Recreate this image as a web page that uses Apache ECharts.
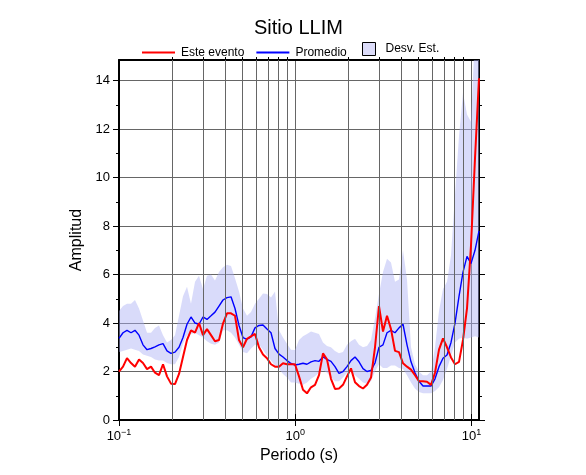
<!DOCTYPE html>
<html>
<head>
<meta charset="utf-8">
<script src="https://cdn.jsdelivr.net/npm/echarts@6/dist/echarts.min.js"></script>
<style>
  html, body { margin: 0; padding: 0; background: #fff; }
  #chart { width: 586px; height: 475px; }
</style>
</head>
<body>
<div id="chart"></div>
<script>
// Periodos (s)
const periodos = [
  0.1000, 0.1054, 0.1110, 0.1170, 0.1232, 0.1299, 0.1368, 0.1442, 0.1519, 0.1600,
  0.1686, 0.1777, 0.1872, 0.1972, 0.2078, 0.2190, 0.2307, 0.2431, 0.2561, 0.2699,
  0.2843, 0.2996, 0.3156, 0.3326, 0.3504, 0.3692, 0.3890, 0.4099, 0.4319, 0.4550,
  0.4794, 0.5051, 0.5322, 0.5608, 0.5908, 0.6225, 0.6559, 0.6911, 0.7282, 0.7672,
  0.8084, 0.8517, 0.8974, 0.9456, 0.9963, 1.050, 1.106, 1.165, 1.228, 1.294,
  1.363, 1.436, 1.513, 1.594, 1.680, 1.770, 1.865, 1.965, 2.070, 2.182,
  2.299, 2.422, 2.552, 2.689, 2.833, 2.985, 3.145, 3.314, 3.491, 3.679,
  3.876, 4.084, 4.303, 4.534, 4.777, 5.033, 5.303, 5.587, 5.887, 6.203,
  6.536, 6.886, 7.256, 7.645, 8.055, 8.487, 8.942, 9.422, 9.927, 10.46,
  11.02
]

const esteEvento = [
  2.0, 2.2, 2.55, 2.35, 2.2, 2.5, 2.35, 2.1, 2.2, 1.95,
  1.85, 2.3, 1.8, 1.5, 1.48, 1.9, 2.6, 3.3, 3.7, 3.6,
  4.0, 3.5, 3.75, 3.5, 3.25, 3.3, 3.98, 4.4, 4.4, 4.3,
  3.3, 3.0, 3.35, 3.45, 3.55, 3.0, 2.7, 2.55, 2.3, 2.2,
  2.2, 2.34, 2.3, 2.3, 2.3, 1.8, 1.25, 1.1, 1.35, 1.45,
  1.85, 2.75, 2.5, 1.7, 1.28, 1.3, 1.45, 1.8, 2.13, 1.56,
  1.4, 1.3, 1.45, 1.75, 3.0, 4.7, 3.65, 4.3, 3.75, 2.85,
  2.8, 2.34, 2.2, 2.08, 1.85, 1.6, 1.6, 1.58, 1.45, 1.95,
  2.9, 3.37, 3.0, 2.58, 2.3, 2.4, 3.3, 4.6, 7.2, 10.8,
  14.1
]

const promedio = [
  3.37, 3.6, 3.7, 3.6, 3.7, 3.5, 3.1, 2.9, 2.95, 3.02,
  3.1, 3.15, 2.85, 2.75, 2.8, 3.0, 3.4, 3.95, 4.25, 4.0,
  3.95, 4.25, 4.15, 4.3, 4.45, 4.7, 4.95, 5.05, 5.08, 4.6,
  3.9, 3.4, 3.33, 3.43, 3.8, 3.9, 3.92, 3.75, 3.6, 2.95,
  2.72, 2.6, 2.45, 2.33, 2.27, 2.3, 2.34, 2.3, 2.4, 2.45,
  2.42, 2.6, 2.5, 2.42, 2.2, 1.92, 2.0, 2.2, 2.45, 2.6,
  2.4, 2.12, 2.0, 2.05, 2.35, 3.0, 3.1, 3.6, 3.7, 3.6,
  3.8, 3.95, 3.1, 2.4, 1.95, 1.6, 1.4, 1.4, 1.4, 1.7,
  2.2, 2.55, 2.68, 3.2, 4.0, 5.1, 6.1, 6.75, 6.45, 7.0,
  7.8
]

// Desviacion estandar: limites superior e inferior
const desvSup = [
  4.5, 4.7, 4.8, 4.8, 4.95, 4.6, 4.1, 3.6, 3.6, 3.8,
  3.9, 3.5, 3.2, 3.3, 3.5, 4.3, 5.1, 5.5, 4.8, 5.7,
  5.95, 5.4, 5.95, 6.0, 5.75, 6.1, 6.3, 6.4, 6.35, 5.85,
  5.3, 4.6, 4.3, 4.45, 4.8, 5.0, 5.22, 5.2, 5.05, 5.3,
  3.7, 3.4, 3.15, 2.9, 2.89, 3.3, 3.45, 3.55, 3.65, 3.6,
  3.55, 3.2, 3.05, 3.0, 2.85, 2.75, 2.8, 3.1, 3.25, 3.35,
  3.1, 3.0, 3.05, 3.3, 4.2, 5.2, 6.1, 6.65, 6.5, 5.7,
  5.8, 7.0, 5.8, 3.0, 2.3, 2.0, 1.85, 1.85, 2.0, 3.0,
  4.5, 5.4, 5.7, 6.8, 9.3, 11.7, 13.5, 12.6, 12.3, 16,
  16
]

const desvInf = [
  2.8, 2.85, 2.9, 2.95, 2.9, 2.85, 2.7, 2.65, 2.6, 2.5,
  2.45, 2.45, 2.35, 2.3, 2.3, 2.6, 3.15, 3.5, 3.55, 3.6,
  3.5, 3.4, 3.25, 3.15, 3.1, 3.2, 3.7, 3.7, 3.6, 3.4,
  3.1, 2.8, 2.75, 2.95, 3.1, 3.1, 2.9, 2.65, 2.45, 2.25,
  2.1, 1.9, 1.75, 1.55, 1.55, 1.5, 1.45, 1.55, 1.7, 1.8,
  1.95, 2.05, 1.95, 1.75, 1.6, 1.6, 1.75, 1.95, 2.0, 1.85,
  1.7, 1.55, 1.5, 1.6, 2.0, 2.3, 2.15, 2.15, 2.25, 2.25,
  2.15, 2.1, 1.85, 1.55, 1.3, 1.15, 1.1, 1.1, 1.1, 1.2,
  1.35, 1.65, 2.1, 2.65, 3.2, 3.35, 3.4, 3.35, 3.4, 3.45,
  3.4
]

// Marcas de ejes
const yMayores = [0, 2, 4, 6, 8, 10, 12, 14]
const yMenores = [1, 3, 5, 7, 9, 11, 13]
const xDecadas = [0.1, 1, 10]
const xMenores = [0.2, 0.3, 0.4, 0.5, 0.6, 0.7, 0.8, 0.9, 2, 3, 4, 5, 6, 7, 8, 9]

const X_MIN = 0.1
const X_MAX = 11.02
const Y_MAX = 14.85

const FONT = '"Liberation Sans", Arial, Helvetica, sans-serif'
const GRID_COLOR = '#666'
const BAND_COLOR = 'rgba(170, 175, 245, 0.45)'

const chart = echarts.init(document.getElementById('chart'), null, { renderer: 'canvas' })

const potencia = (v) => {
  const e = Math.round(Math.log10(v))
  return '{b|10}{s|' + (e < 0 ? '\u2212' + (-e) : e) + '}'
}

// banda de desviacion: un solo poligono (superior ida, inferior vuelta)
const renderBanda = (params, api) => {
  if (params.dataIndex !== 0) return null
  const pts = []
  for (let i = 0; i < periodos.length; i++) pts.push(api.coord([periodos[i], desvSup[i]]))
  for (let i = periodos.length - 1; i >= 0; i--) pts.push(api.coord([periodos[i], desvInf[i]]))
  const cs = params.coordSys
  return {
    type: 'polygon',
    shape: { points: pts },
    style: { fill: BAND_COLOR, stroke: null },
    clipPath: { type: 'rect', shape: { x: cs.x, y: cs.y, width: cs.width, height: cs.height } }
  }
}

const baseX = { type: 'log', logBase: 10, min: X_MIN, max: X_MAX, gridIndex: 0 }
const baseY = { type: 'value', min: 0, max: Y_MAX, interval: 1, gridIndex: 0 }
const axisLine = { show: true, onZero: false, lineStyle: { color: '#000', width: 2 } }
const tick = (len, vals) => ({ show: true, length: len, lineStyle: { color: '#000', width: 1 }, customValues: vals })

chart.setOption({
  animation: false,
  textStyle: { fontFamily: FONT, color: '#000' },
  title: {
    text: 'Sitio LLIM',
    left: 254,
    top: 18,
    padding: 0,
    textStyle: { fontFamily: FONT, fontSize: 20, fontWeight: 'normal', color: '#000' }
  },
  legend: [
    {
      data: [
        { name: 'Este evento', icon: 'rect', itemStyle: { color: '#ff0000' } },
        { name: 'Promedio', icon: 'rect', itemStyle: { color: '#0000ff' } }
      ],
      left: 142,
      top: 46.5,
      padding: 0,
      itemWidth: 33,
      itemHeight: 2,
      itemGap: 12,
      selectedMode: false,
      textStyle: { fontFamily: FONT, fontSize: 12, color: '#000', padding: [0, 0, 0, 1] }
    },
    {
      data: [{ name: 'Desv. Est.', icon: 'rect' }],
      left: 362,
      top: 42,
      padding: 0,
      itemWidth: 13,
      itemHeight: 13,
      selectedMode: false,
      itemStyle: { color: '#dcdcf9', borderColor: '#000', borderWidth: 1 },
      textStyle: { fontFamily: FONT, fontSize: 12, color: '#000', padding: [3, 0, 0, 5] }
    }
  ],
  grid: { left: 119, right: 107, top: 60, bottom: 55 },
  xAxis: [
    Object.assign({}, baseX, {
      position: 'bottom',
      name: 'Periodo (s)',
      nameLocation: 'middle',
      nameGap: 28,
      nameTextStyle: { fontFamily: FONT, fontSize: 16, color: '#000' },
      axisLine: axisLine,
      axisTick: tick(6, xDecadas),
      axisLabel: {
        margin: 8,
        customValues: xDecadas,
        formatter: potencia,
        rich: {
          b: { fontFamily: FONT, fontSize: 13, color: '#000' },
          s: { fontFamily: FONT, fontSize: 9, color: '#000', padding: [0, 0, 8, 0] }
        }
      },
      splitLine: { show: true, lineStyle: { color: GRID_COLOR, width: 1 } }
    }),
    Object.assign({}, baseX, {
      position: 'top',
      axisLine: axisLine,
      axisTick: tick(3, xMenores),
      axisLabel: { show: false },
      splitLine: { show: false }
    }),
    Object.assign({}, baseX, {
      position: 'top',
      axisLine: { show: false },
      axisTick: tick(6, xDecadas),
      axisLabel: { show: false },
      splitLine: { show: false }
    })
  ],
  yAxis: [
    Object.assign({}, baseY, {
      position: 'left',
      name: 'Amplitud',
      nameLocation: 'middle',
      nameGap: 30,
      nameTextStyle: { fontFamily: FONT, fontSize: 16, color: '#000' },
      axisLine: axisLine,
      axisTick: tick(6, yMayores),
      axisLabel: {
        margin: 9,
        customValues: yMayores,
        fontFamily: FONT,
        fontSize: 13,
        color: '#000',
        formatter: (v) => (yMayores.indexOf(v) >= 0 ? String(v) : '')
      },
      splitLine: { show: true, lineStyle: { color: GRID_COLOR, width: 1 } }
    }),
    Object.assign({}, baseY, {
      position: 'left',
      axisLine: { show: false },
      axisTick: tick(3, yMenores),
      axisLabel: { show: false },
      splitLine: { show: false }
    }),
    Object.assign({}, baseY, {
      position: 'right',
      axisLine: axisLine,
      axisTick: tick(6, yMayores),
      axisLabel: { show: false },
      splitLine: { show: false }
    }),
    Object.assign({}, baseY, {
      position: 'right',
      axisLine: { show: false },
      axisTick: tick(3, yMenores),
      axisLabel: { show: false },
      splitLine: { show: false }
    })
  ],
  series: [
    {
      name: 'Desv. Est.',
      type: 'custom',
      silent: true,
      renderItem: renderBanda,
      itemStyle: { color: '#dcdcf9' },
      encode: { x: 0, y: [1, 2] },
      data: periodos.map((p, i) => [p, desvInf[i], desvSup[i]]),
      markLine: {
        silent: true,
        symbol: 'none',
        label: { show: false },
        lineStyle: { color: GRID_COLOR, width: 1, type: 'solid' },
        data: xMenores.map((v) => ({ xAxis: v }))
      }
    },
    {
      name: 'Promedio',
      type: 'line',
      symbol: 'none',
      data: periodos.map((p, i) => [p, promedio[i]]),
      lineStyle: { color: '#0000ff', width: 1.4 },
      itemStyle: { color: '#0000ff' }
    },
    {
      name: 'Este evento',
      type: 'line',
      symbol: 'none',
      data: periodos.map((p, i) => [p, esteEvento[i]]),
      lineStyle: { color: '#ff0000', width: 2 },
      itemStyle: { color: '#ff0000' }
    }
  ]
})
</script>
</body>
</html>
